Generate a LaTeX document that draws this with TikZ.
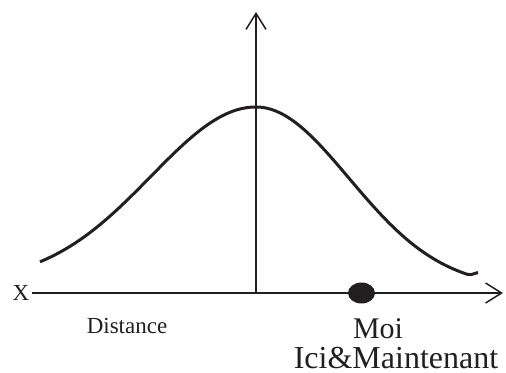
\documentclass[tikz,border=0pt]{standalone}
\usepackage{fontspec}
\setmainfont{Liberation Serif}
\usepackage{tikz}
\usetikzlibrary{arrows.meta,positioning,shapes.geometric}
\definecolor{inkBlack}{RGB}{35,31,32}

\begin{document}
\begin{tikzpicture}[x=0.5pt,y=0.5pt]
\useasboundingbox (-256,-79) rectangle (250,293);
\coordinate (orig) at (0,0);
\coordinate (yend) at (0,281);
\coordinate (xend) at (247,0);
\node[inner sep=1pt, text=inkBlack, font=\fontsize{11.5}{14}\selectfont] (xlab) at (-235,0) {X};
\draw[inkBlack, line width=0.75pt, -{Straight Barb[length=8pt,width=10pt]}] (xlab.east)--(xend);
\draw[inkBlack, line width=0.75pt, -{Straight Barb[length=8pt,width=10pt]}] (orig)--(yend);
\draw[inkBlack, line width=1.5pt, line join=round]
plot[domain=-216:0, samples=80] (\x,{10+176*exp(-(\x/105)^2/2)})
-- plot[domain=0:211, samples=80] (\x,{5+181*exp(-(\x/93)^2/2)})
.. controls (215,17.6) and (218,19.4) .. (222,20.6);
\node[ellipse, fill=inkBlack, inner sep=0pt, minimum width=13.5pt, minimum height=10.5pt] (moi) at (105.5,0) {};
\node[anchor=base, text=inkBlack, font=\fontsize{11.5}{14}\selectfont] (dist) at (-129,-40) {Distance};
\node[anchor=base, text=inkBlack, font=\fontsize{15}{18}\selectfont] (moilab) at (122,-45) {Moi};
\node[anchor=base, text=inkBlack, font=\fontsize{16}{19}\selectfont] (ici) at (140,-75) {Ici\&Maintenant};
\end{tikzpicture}
\end{document}
